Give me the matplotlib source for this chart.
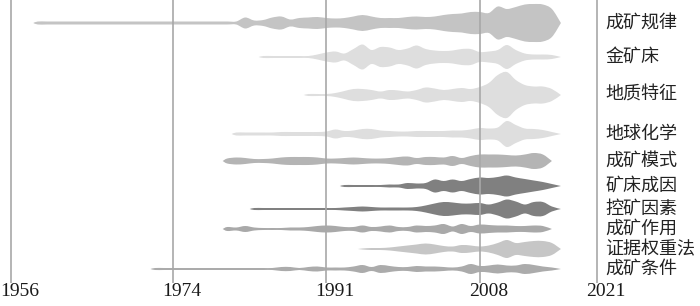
import matplotlib
matplotlib.use("Agg")
import matplotlib.pyplot as plt
from matplotlib.path import Path
from matplotlib.patches import PathPatch
import numpy as np

plt.rcParams['font.family'] = ['Noto Sans CJK SC', 'DejaVu Sans']

# keyword streams, thickness per year (px), first year of each stream
keywords = ['成矿规律', '金矿床', '地质特征', '地球化学', '成矿模式',
            '矿床成因', '控矿因素', '成矿作用', '证据权重法', '成矿条件']
start_years = [1959, 1984, 1989, 1981, 1980, 1993, 1983, 1980, 1995, 1972]
row_y = [23, 57, 95, 134, 161, 186, 209, 229, 249, 269]
colors = ['#c4c4c4', '#dedede', '#dedede', '#dedede', '#b4b4b4',
          '#808080', '#808080', '#a9a9a9', '#c6c6c6', '#ababab']

chengkuang_guilv = [3, 3, 3, 3, 3, 3, 3, 3, 3, 3, 3, 3, 3, 3, 3, 3, 3, 3, 3, 3, 3, 3,
                    3, 11, 5, 6, 11, 13, 7, 10, 11, 12, 10, 9, 10, 13, 16, 13, 10, 10,
                    10, 12, 13, 12, 13, 16, 18, 19, 22, 22, 20, 33, 28, 32, 37, 38, 37, 28, 0]
jin_kuangchuang = [2, 2, 2, 2, 2, 2, 5, 9, 11, 7, 16, 25, 14, 20, 19, 14, 17, 23, 16, 13,
                   12, 13, 16, 16, 10, 11, 14, 24, 14, 7, 5, 5, 4, 0]
dizhi_tezheng = [2, 2, 2, 4, 8, 12, 12, 10, 7, 10, 9, 7, 10, 15, 13, 10, 12, 14, 12, 16,
                 24, 40, 46, 30, 20, 17, 17, 12, 0]
diqiu_huaxue = [3, 3, 3, 3, 3, 4, 4, 4, 4, 4, 5, 9, 6, 7, 10, 10, 7, 6, 5, 5, 6, 6, 6, 6,
                7, 7, 9, 12, 11, 13, 26, 18, 11, 10, 8, 4, 0]
chengkuang_moshi = [5, 7, 6, 4, 4, 5, 7, 8, 8, 8, 7, 5, 5, 6, 7, 6, 5, 5, 6, 8, 9, 6, 8, 8,
                    7, 10, 6, 10, 13, 13, 13, 12, 11, 13, 16, 13, 0]
kuangchuang_chengyin = [2, 2, 2, 2, 2, 3, 3, 6, 5, 6, 13, 10, 13, 10, 14, 17, 16, 18, 21,
                        17, 14, 11, 8, 4, 0]
kongkuang_yinsu = [2, 2, 2, 2, 2, 2, 2, 2, 2, 2, 3, 4, 5, 4, 3, 3, 3, 3, 4, 7, 11, 14, 13,
                   11, 11, 12, 9, 13, 19, 15, 9, 14, 14, 5, 0]
chengkuang_zuoyong = [4, 3, 6, 3, 2, 2, 2, 3, 3, 4, 6, 7, 6, 4, 4, 7, 4, 5, 7, 4, 4, 7, 6,
                      7, 10, 5, 10, 6, 9, 8, 7, 7, 6, 6, 7, 6, 0]
zhengju_quanzhong = [1, 2, 2, 3, 5, 7, 9, 11, 9, 6, 5, 8, 7, 5, 7, 12, 18, 12, 14, 16, 16,
                     12, 0]
chengkuang_tiaojian = [2, 2, 2, 2, 2, 2, 2, 2, 2, 2, 2, 2, 2, 2, 4, 4, 2, 4, 5, 3, 3, 3, 5,
                       8, 4, 8, 6, 4, 4, 6, 5, 5, 4, 3, 5, 10, 6, 7, 9, 7, 7, 10, 8, 5, 3, 0]

series = [chengkuang_guilv, jin_kuangchuang, dizhi_tezheng, diqiu_huaxue, chengkuang_moshi,
          kuangchuang_chengyin, kongkuang_yinsu, chengkuang_zuoyong, zhengju_quanzhong,
          chengkuang_tiaojian]

tick_years = [1956, 1974, 1991, 2008, 2021]


def smooth_edge(pts):
    # catmull-rom through the points, as cubic bezier segments
    verts, codes = [], []
    n = len(pts)
    for i in range(n - 1):
        p0 = pts[max(i - 1, 0)]
        p1 = pts[i]
        p2 = pts[i + 1]
        p3 = pts[min(i + 2, n - 1)]
        c1 = p1 + (p2 - p0) / 6.0
        c2 = p2 - (p3 - p1) / 6.0
        verts += [c1, c2, p2]
        codes += [Path.CURVE4] * 3
    return verts, codes


def stream(ax, start, vals, yc, color):
    x = start + np.arange(len(vals), dtype=float)
    h = np.array(vals, dtype=float) / 2.0
    x = np.concatenate([[start - 0.5], x])
    h = np.concatenate([[0.0], h])
    top = np.column_stack([x, yc - h])
    bot = np.column_stack([x, yc + h])[::-1]
    verts = [top[0]]
    codes = [Path.MOVETO]
    v, c = smooth_edge(top)
    verts += v
    codes += c
    v, c = smooth_edge(bot)
    verts += v
    codes += c
    verts.append(top[0])
    codes.append(Path.CLOSEPOLY)
    ax.add_patch(PathPatch(Path(np.array(verts), codes), facecolor=color,
                           edgecolor='none', zorder=2))


fig = plt.figure(figsize=(7, 3.06), dpi=100)
ax = fig.add_axes([0, 0, 1, 1])
ax.set_xlim(1954.81, 2032.42)
ax.set_ylim(306, 0)
ax.axis('off')

for name, start, vals, yc, col in zip(keywords, start_years, series, row_y, colors):
    stream(ax, start, vals, yc, col)
    ax.annotate(name, (2021, yc), xytext=(8, 0), textcoords='offset pixels',
                ha='left', va='center', fontsize=13, color='#222222')

ax.vlines(tick_years, 0, 283, colors='#a8a8a8', linewidth=1.2, zorder=3)
for yr in tick_years:
    ax.annotate(str(yr), (yr, 292), xytext=(-11, 0), textcoords='offset pixels',
                ha='left', va='center', fontsize=14, color='#1a1a1a',
                family='Liberation Serif')

fig.savefig('out.png', dpi=100)
